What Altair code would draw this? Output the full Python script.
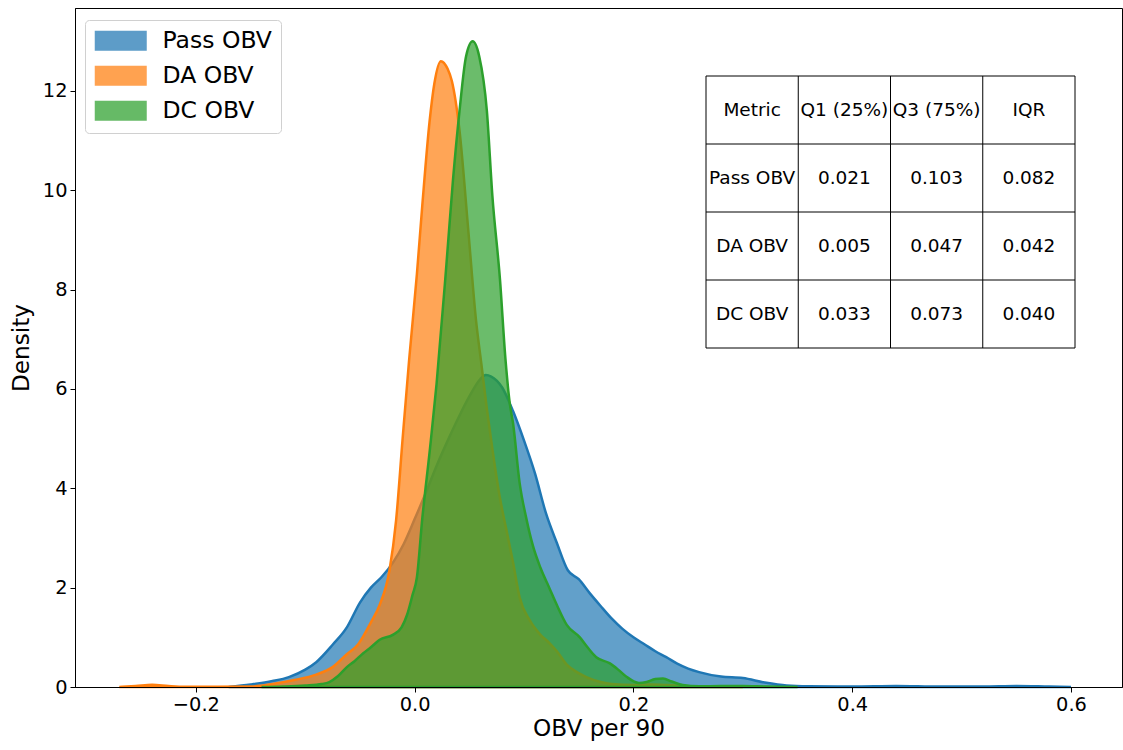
import altair as alt
import pandas as pd

# Kernel density curves of three on-ball value metrics (per 90 minutes)
series_names = ["Pass OBV", "DA OBV", "DC OBV"]
series_colors = ["#1f77b4", "#ff7f0e", "#2ca02c"]

pass_x = [-0.17, -0.15, -0.13, -0.115, -0.10, -0.09, -0.075, -0.062, -0.05, -0.04,
          -0.03, -0.02, -0.01, 0.0, 0.01, 0.02, 0.03, 0.04, 0.05, 0.06,
          0.065, 0.07, 0.08, 0.09, 0.10, 0.11, 0.12, 0.13, 0.14, 0.15,
          0.16, 0.17, 0.18, 0.19, 0.20, 0.21, 0.22, 0.23, 0.24, 0.25,
          0.26, 0.28, 0.30, 0.32, 0.34, 0.36, 0.40, 0.44, 0.48, 0.52,
          0.55, 0.58, 0.60]
pass_y = [0.0, 0.05, 0.12, 0.2, 0.35, 0.5, 0.85, 1.2, 1.7, 2.0,
          2.22, 2.5, 2.88, 3.38, 3.9, 4.45, 4.95, 5.42, 5.85, 6.2,
          6.28, 6.25, 6.03, 5.55, 4.96, 4.3, 3.5, 2.9, 2.35, 2.17,
          1.89, 1.63, 1.38, 1.17, 1.0, 0.86, 0.72, 0.6, 0.47, 0.37,
          0.3, 0.21, 0.18, 0.09, 0.03, 0.015, 0.01, 0.02, 0.008, 0.01,
          0.02, 0.008, 0.0]

da_x = [-0.27, -0.255, -0.24, -0.225, -0.21, -0.18, -0.15, -0.13, -0.11, -0.09,
        -0.075, -0.062, -0.052, -0.047, -0.04, -0.032, -0.023, -0.017, -0.011, -0.005,
        0.002, 0.007, 0.0137, 0.018, 0.024, 0.03, 0.034, 0.041, 0.049, 0.056,
        0.061, 0.066, 0.071, 0.078, 0.084, 0.09, 0.096, 0.105, 0.115, 0.123,
        0.13, 0.139, 0.15, 0.157, 0.17, 0.18, 0.20, 0.215, 0.23, 0.25,
        0.28, 0.30]
da_y = [0.0, 0.02, 0.045, 0.02, 0.005, 0.005, 0.01, 0.06, 0.14, 0.25,
        0.4, 0.66, 0.85, 1.02, 1.3, 1.65, 2.35, 3.35, 5.0, 6.6,
        8.3, 9.7, 11.4, 12.15, 12.6, 12.45, 12.2, 11.2, 9.2, 7.4,
        6.5, 5.6, 4.8, 3.8, 3.15, 2.5, 1.8, 1.35, 1.05, 0.89,
        0.72, 0.45, 0.28, 0.2, 0.1, 0.06, 0.04, 0.05, 0.04, 0.015,
        0.005, 0.0]

dc_x = [-0.14, -0.12, -0.10, -0.085, -0.078, -0.07, -0.062, -0.055, -0.047, -0.04,
        -0.032, -0.02, -0.012, -0.007, -0.002, 0.002, 0.007, 0.014, 0.02, 0.029,
        0.035, 0.041, 0.047, 0.053, 0.059, 0.066, 0.071, 0.078, 0.083, 0.087,
        0.09, 0.096, 0.102, 0.108, 0.115, 0.123, 0.13, 0.139, 0.151, 0.158,
        0.166, 0.178, 0.186, 0.194, 0.205, 0.212, 0.22, 0.227, 0.235, 0.245,
        0.26, 0.28, 0.30, 0.32, 0.35]
dc_y = [0.0, 0.01, 0.03, 0.06, 0.1, 0.22, 0.4, 0.52, 0.68, 0.8,
        0.95, 1.05, 1.2, 1.45, 1.85, 2.2, 3.4, 4.8, 6.1, 8.5,
        10.2, 11.6, 12.7, 13.0, 12.7, 11.6, 9.9, 8.2, 6.6, 5.7,
        5.3, 4.1, 3.4, 2.85, 2.4, 2.0, 1.65, 1.25, 1.0, 0.8,
        0.6, 0.48, 0.35, 0.2, 0.08, 0.1, 0.16, 0.17, 0.11, 0.04,
        0.015, 0.02, 0.02, 0.01, 0.0]

# Quartile summary shown in the inset table
table_header = ["Metric", "Q1 (25%)", "Q3 (75%)", "IQR"]
q1_values = [0.021, 0.005, 0.033]
q3_values = [0.103, 0.047, 0.073]
iqr_values = [0.082, 0.042, 0.040]

FONT = "DejaVu Sans"

curve_frames = {
    series_names[0]: pd.DataFrame({"series": series_names[0], "obv": pass_x, "density": pass_y}),
    series_names[1]: pd.DataFrame({"series": series_names[1], "obv": da_x, "density": da_y}),
    series_names[2]: pd.DataFrame({"series": series_names[2], "obv": dc_x, "density": dc_y}),
}

# table cells: one row per text cell, grid lines from row/column boundaries
cells = []
for c, head in enumerate(table_header):
    cells.append({"col": c + 0.5, "row": 0.5, "text": head})
for r, name in enumerate(series_names):
    row_vals = [name, f"{q1_values[r]:.3f}", f"{q3_values[r]:.3f}", f"{iqr_values[r]:.3f}"]
    for c, txt in enumerate(row_vals):
        cells.append({"col": c + 0.5, "row": r + 1.5, "text": txt})
cells = pd.DataFrame(cells)

n_cols = len(table_header)
n_rows = len(series_names) + 1
grid = pd.DataFrame(
    [{"c0": 0, "c1": n_cols, "r0": r, "r1": r} for r in range(n_rows + 1)]
    + [{"c0": c, "c1": c, "r0": 0, "r1": n_rows} for c in range(n_cols + 1)]
)

col_scale = alt.Scale(domain=[0, n_cols], range=[631, 1000], nice=False, zero=False)
row_scale = alt.Scale(domain=[0, n_rows], range=[68, 340], nice=False, zero=False)

x_scale = alt.Scale(domain=[-0.3105, 0.6466], nice=False, zero=False)
y_scale = alt.Scale(domain=[0, 13.67], nice=False)
color_scale = alt.Scale(domain=series_names, range=series_colors)

legend = alt.Legend(
    title=None,
    orient="none",
    legendX=10,
    legendY=12,
    symbolType="M-2.5,-0.9H2.5V0.9H-2.5Z",
    symbolSize=400,
    symbolStrokeWidth=2,
    symbolOpacity=0.72,
    symbolOffset=15,
    labelOffset=30,
    labelFontSize=23.5,
    labelFont=FONT,
    labelColor="black",
    rowPadding=8,
    padding=9,
    fillColor="rgba(255,255,255,0.8)",
    strokeColor="#d0d0d0",
    cornerRadius=4,
)

x_axis = alt.Axis(
    title="OBV per 90", values=[-0.2, 0.0, 0.2, 0.4, 0.6], format=".1f",
    grid=False, zindex=1, labelFontSize=19.4, titleFontSize=23.2,
    tickSize=5, labelPadding=3, titlePadding=4,
)
y_axis = alt.Axis(
    title="Density", values=[0, 2, 4, 6, 8, 10, 12], format="d",
    grid=False, zindex=1, labelFontSize=19.4, titleFontSize=23.2,
    tickSize=5, labelPadding=3, titlePadding=9,
)


def density_layer(name):
    # each curve is its own layer so later curves sit on top of earlier ones
    return alt.Chart(curve_frames[name]).mark_area(
        interpolate="monotone", fillOpacity=0.7, strokeWidth=2.5, strokeOpacity=1
    ).encode(
        x=alt.X("obv:Q", scale=x_scale, axis=x_axis),
        y=alt.Y("density:Q", scale=y_scale, stack=None, axis=y_axis),
        fill=alt.Fill("series:N", scale=color_scale, legend=legend),
        stroke=alt.Stroke("series:N", scale=color_scale, legend=legend),
    )


curves = alt.layer(*[density_layer(n) for n in series_names])

table_lines = alt.Chart(grid).mark_rule(color="black", strokeWidth=1).encode(
    x=alt.X("c0:Q", scale=col_scale, axis=None),
    x2="c1:Q",
    y=alt.Y("r0:Q", scale=row_scale, axis=None),
    y2="r1:Q",
)

table_text = alt.Chart(cells).mark_text(
    font=FONT, fontSize=18.5, color="black", align="center", baseline="middle"
).encode(
    x=alt.X("col:Q", scale=col_scale, axis=None),
    y=alt.Y("row:Q", scale=row_scale, axis=None),
    text="text:N",
)

table = alt.layer(table_lines, table_text)

chart = alt.layer(curves, table).resolve_scale(
    x="independent", y="independent"
).properties(
    width=1047,
    height=679,
    padding={"left": 75, "top": 8, "right": 1, "bottom": 63},
    autosize=alt.AutoSizeParams(type="none"),
    background="white",
).configure(
    font=FONT,
).configure_view(
    stroke="black", strokeWidth=1,
).configure_axis(
    domainColor="black", tickColor="black", labelColor="black", titleColor="black",
    titleFontWeight="normal", labelFont=FONT, titleFont=FONT,
)

chart.save("out.html", embed_options={"renderer": "svg", "actions": False})
